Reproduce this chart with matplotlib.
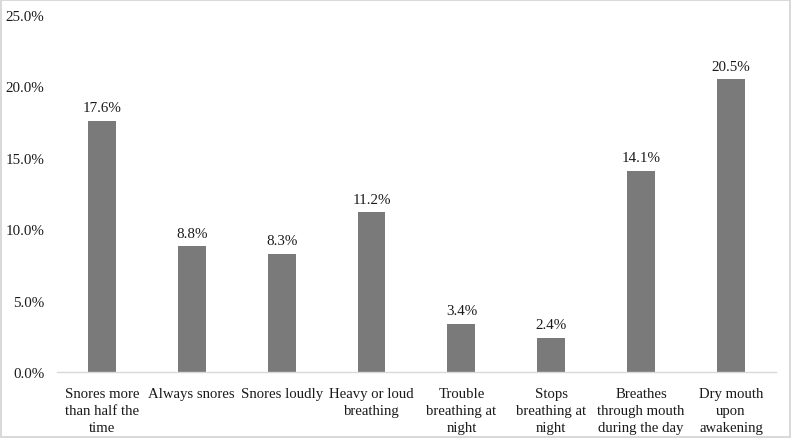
import matplotlib.pyplot as plt
from matplotlib.ticker import FuncFormatter
import numpy as np

categories = ['Snores more\nthan half the\ntime', 'Always snores', 'Snores loudly',
              'Heavy or loud\nbreathing', 'Trouble\nbreathing at\nnight',
              'Stops\nbreathing at\nnight', 'Breathes\nthrough mouth\nduring the day',
              'Dry mouth\nupon\nawakening']
values = [17.6, 8.8, 8.3, 11.2, 3.4, 2.4, 14.1, 20.5]

plt.rcParams['font.family'] = ['Liberation Serif', 'DejaVu Serif']

fig = plt.figure(figsize=(7.91, 4.39), dpi=100)
fig.patch.set_edgecolor('#d9d9d9')
fig.patch.set_linewidth(1.5)
ax = fig.add_axes([0.072, 0.150, 0.909, 0.814])

x = np.arange(len(categories))
bars = ax.bar(x, values, width=0.31, color='#7a7a7a')

# Etykiety wartości nad słupkami
for xi, v in zip(x, values):
    ax.text(xi, v + 0.45, f'{v:.1f}%', ha='center', va='bottom', fontsize=10.8, color='#1a1a1a')

ax.set_xlim(-0.5, len(categories) - 0.5)
ax.set_ylim(0, 25)
ax.set_yticks(np.arange(0, 26, 5))
ax.yaxis.set_major_formatter(FuncFormatter(lambda v, p: f'{v:.1f}%'))
ax.set_xticks(x)
ax.set_xticklabels(categories, fontsize=10.6, color='#1a1a1a', linespacing=1.38)
ax.tick_params(axis='y', length=0, pad=9, labelsize=10.8, labelcolor='#1a1a1a')
ax.tick_params(axis='x', length=0, pad=11)

for s in ['top', 'right', 'left']:
    ax.spines[s].set_visible(False)
ax.spines['bottom'].set_color('#d9d9d9')
ax.spines['bottom'].set_linewidth(1)

fig.savefig('out.png', dpi=100)
